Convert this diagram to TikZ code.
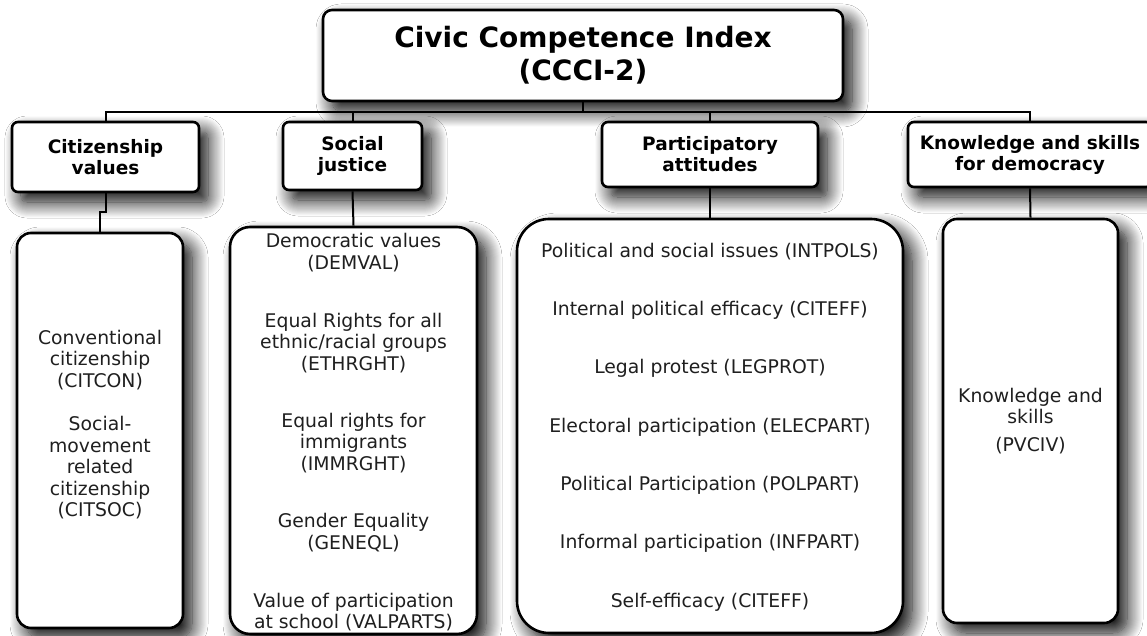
\documentclass[tikz,border=0pt]{standalone}
\usepackage{fontspec}
\setmainfont{DejaVu Sans}
\usetikzlibrary{shadows.blur}
\begin{document}
\begin{tikzpicture}[x=1pt,y=-1pt,
  shadowed/.style={blur shadow={shadow xshift=9pt,shadow yshift=-10pt,shadow blur radius=16pt,shadow blur steps=16,shadow opacity=100,shadow blur extra rounding=6pt}},
  boxbase/.style={draw=black,fill=white,line width=2.6pt,inner sep=0pt,shadowed},
  rootbox/.style={boxbase,rounded corners=9pt,align=center,font=\bfseries\fontsize{28}{33}\selectfont},
  catbox/.style={boxbase,rounded corners=6pt,align=center,minimum height=66pt,font=\bfseries\fontsize{18.5}{21}\selectfont},
  contbox/.style={boxbase,align=center,font=\fontsize{18.8}{21.5}\selectfont},
  item/.style={align=center,inner sep=0pt,font=\fontsize{18.8}{21.5}\selectfont,text=black!88},
  conn/.style={line width=2pt,draw=black}]
\fill[white] (0,0) rectangle (1147,636);
\useasboundingbox (0,0) rectangle (1147,636);

% root
\node[rootbox,minimum width=520pt,minimum height=91pt] (root) at (583,55.5) {Civic Competence Index\\(CCCI-2)};

% categories
\node[catbox,minimum width=187pt,minimum height=70pt] (cit) at (105.5,157) {Citizenship\\values};
\node[catbox,minimum width=139pt,minimum height=68pt] (soc) at (352.5,156) {Social\\justice};
\node[catbox,minimum width=216pt,minimum height=65pt] (par) at (710,154.5) {Participatory\\attitudes};
\node[catbox,minimum width=244pt,minimum height=65pt] (kno) at (1030,154.5) {Knowledge and skills\\for democracy};

% content boxes
\node[contbox,rounded corners=14pt,minimum width=166pt,minimum height=395pt] (citc) at (100,430.5) {};
\node[contbox,rounded corners=20pt,minimum width=247pt,minimum height=407pt] (socc) at (353.5,430.5) {};
\node[contbox,rounded corners=32pt,minimum width=386pt,minimum height=414pt] (parc) at (710,426) {};
\node[contbox,rounded corners=14pt,minimum width=175pt,minimum height=404pt] (knoc) at (1030.5,421) {};

% texts
\node[item] (t1) at (100,424.5) {Conventional\\citizenship\\(CITCON)\\[22pt]Social-\\movement\\related\\citizenship\\(CITSOC)};

\node[item] (s1) at (353.5,252.5) {Democratic values\\(DEMVAL)};
\node[item] (s2) at (353.5,343) {Equal Rights for all\\ethnic/racial groups\\(ETHRGHT)};
\node[item] (s3) at (353.5,443) {Equal rights for\\immigrants\\(IMMRGHT)};
\node[item] (s4) at (353.5,532.5) {Gender Equality\\(GENEQL)};
\node[item] (s5) at (353.5,612) {Value of participation\\at school (VALPARTS)};

\node[item] (p1) at (710,252) {Political and social issues (INTPOLS)};
\node[item] (p2) at (710,310) {Internal political efficacy (CITEFF)};
\node[item] (p3) at (710,368) {Legal protest (LEGPROT)};
\node[item] (p4) at (710,427) {Electoral participation (ELECPART)};
\node[item] (p5) at (710,485) {Political Participation (POLPART)};
\node[item] (p6) at (710,543) {Informal participation (INFPART)};
\node[item] (p7) at (710,602) {Self-efficacy (CITEFF)};

\node[item] (k1) at (1030.5,421) {Knowledge and\\skills\\[6pt](PVCIV)};

% connectors
\coordinate (bus) at (0,112);
\coordinate (jog) at (100,212);
\draw[conn] (root.south) -- (root.south |- bus);
\draw[conn] (cit.north) -- (cit.north |- bus) -- (kno.north |- bus) -- (kno.north);
\draw[conn] (soc.north) -- (soc.north |- bus);
\draw[conn] (par.north) -- (par.north |- bus);
\draw[conn] (cit.south) -- (cit.south |- jog) -- (jog) -- (citc.north);
\draw[conn] (soc.south) -- (socc.north);
\draw[conn] (par.south) -- (parc.north);
\draw[conn] (kno.south) -- (knoc.north);
\end{tikzpicture}
\end{document}
